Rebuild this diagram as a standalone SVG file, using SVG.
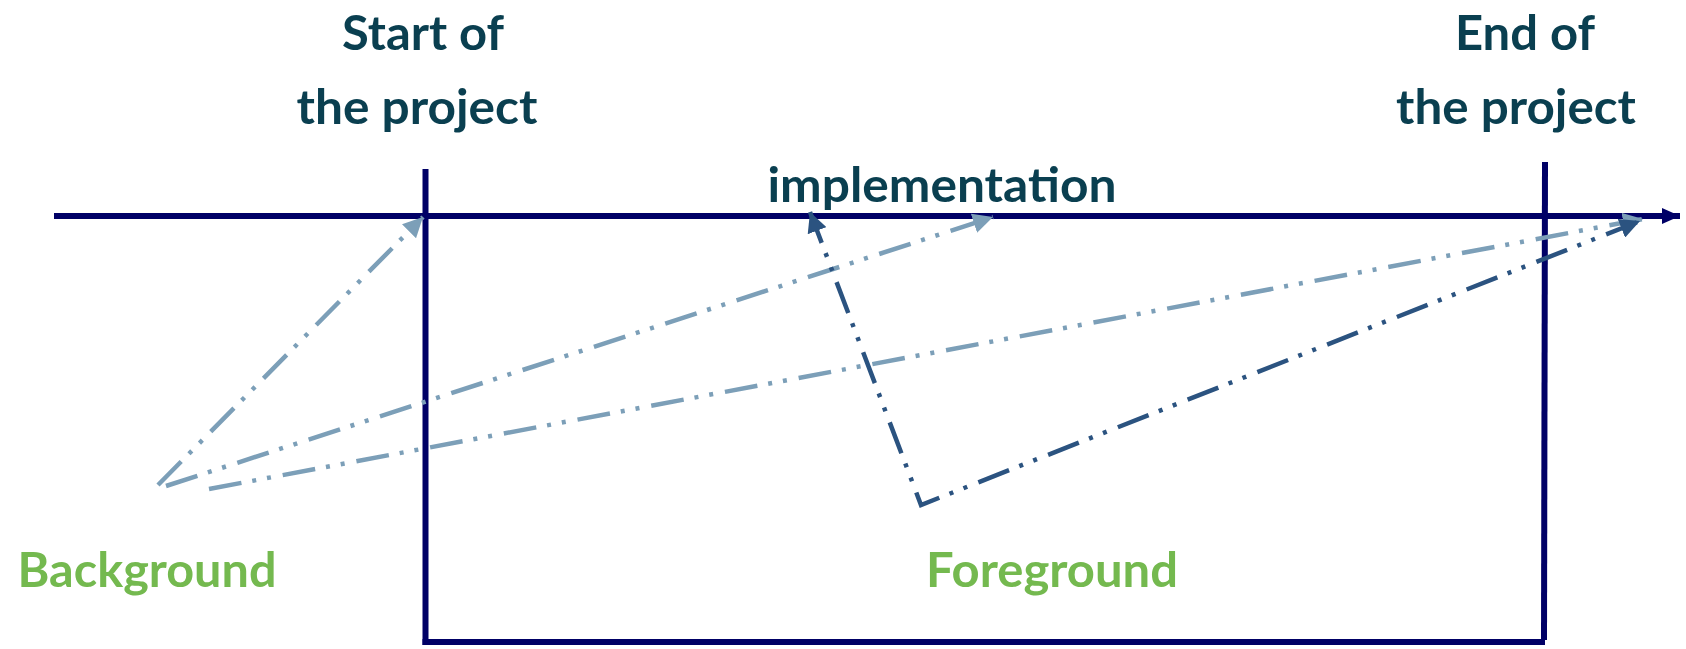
<svg xmlns="http://www.w3.org/2000/svg" width="1686" height="649" viewBox="0 0 1686 649">
<style>
.t{font-family:Lato,"Open Sans","Liberation Sans",sans-serif;font-weight:bold;font-size:48px;text-anchor:middle}
.dk{fill:#0A3F50}
.gr{fill:#74B94F}
.frame{fill:none;stroke:#000066;stroke-width:6}
.lt{fill:none;stroke:#7C9FB8;stroke-width:4.5;stroke-dasharray:33 11 4 11 4 12}
.db{fill:none;stroke:#2B5380;stroke-width:4.5;stroke-dasharray:33 11 4 11 4 12}
</style>
<defs>
<marker id="axh" markerUnits="userSpaceOnUse" markerWidth="20" markerHeight="16" refX="18" refY="8" orient="auto"><path d="M0,0 L18,8 L0,16 Z" fill="#000066"/></marker>
<marker id="lh" markerUnits="userSpaceOnUse" markerWidth="22" markerHeight="20" refX="20" refY="10" orient="auto"><path d="M0,0 L20,10 L0,20 Z" fill="#7C9FB8"/></marker>
<marker id="dh" markerUnits="userSpaceOnUse" markerWidth="22" markerHeight="20" refX="20" refY="10" orient="auto"><path d="M0,0 L20,10 L0,20 Z" fill="#2B5380"/></marker>
<marker id="dhs" markerUnits="userSpaceOnUse" markerWidth="22" markerHeight="20" refX="20" refY="10" orient="auto-start-reverse"><path d="M0,0 L20,10 L0,20 Z" fill="#2B5380"/></marker>
</defs>
<g id="frame">
<line class="frame" x1="425.5" y1="169" x2="425.5" y2="645"/>
<line class="frame" x1="422.5" y1="642" x2="1545" y2="642"/>
<line class="frame" x1="1545" y1="162" x2="1544" y2="640"/>
</g>
<g id="axis">
<line class="frame" x1="54" y1="216" x2="1680" y2="216" marker-end="url(#axh)"/>
</g>
<g id="connectors">
<line class="lt" x1="158" y1="485" x2="423" y2="217" marker-end="url(#lh)"/>
<line class="lt" x1="166" y1="486" x2="993" y2="217" marker-end="url(#lh)"/>
<line class="lt" x1="209" y1="489" x2="1643" y2="219" marker-end="url(#lh)"/>
<polyline class="db" points="810,212 921,505 1640,221" marker-start="url(#dhs)" marker-end="url(#dh)"/>
</g>
<g id="start-label"><text class="t dk" x="423" y="50" textLength="162" lengthAdjust="spacingAndGlyphs">Start of</text><text class="t dk" x="417" y="124" textLength="241" lengthAdjust="spacingAndGlyphs">the project</text></g>
<g id="end-label"><text class="t dk" x="1525" y="50" textLength="140" lengthAdjust="spacingAndGlyphs">End of</text><text class="t dk" x="1516" y="124" textLength="240" lengthAdjust="spacingAndGlyphs">the project</text></g>
<g id="implementation-label"><text class="t dk" x="942" y="202" textLength="349" lengthAdjust="spacingAndGlyphs">implementation</text></g>
<g id="background-label"><text class="t gr" x="147" y="587" textLength="259" lengthAdjust="spacingAndGlyphs">Background</text></g>
<g id="foreground-label"><text class="t gr" x="1052" y="587" textLength="252" lengthAdjust="spacingAndGlyphs">Foreground</text></g>
</svg>
